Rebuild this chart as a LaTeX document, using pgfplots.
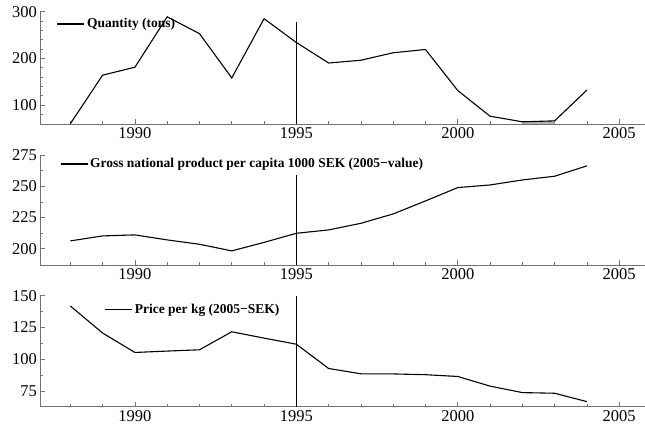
\documentclass[border=0pt]{standalone}
\usepackage{fontspec}
\setmainfont{Liberation Serif}
\usepackage{pgfplots}
\pgfplotsset{compat=1.18}
\definecolor{axgray}{gray}{0.45}
\pgfplotsset{
  panel/.style={
    scale only axis, width=605pt,
    xmin=1987.06, xmax=2005.8,
    axis x line=bottom, axis y line=left,
    axis line style={-, axgray, line width=0.8pt},
    tick align=inside,
    tick style={axgray, line width=0.6pt},
    major tick length=5pt, minor tick length=3pt,
    xtick={1990,1995,2000,2005},
    minor xtick={1987,...,2005},
    tick label style={font=\fontsize{16.5}{18}\selectfont},
    yticklabel style={inner sep=3pt},
    /pgf/number format/assume math mode=true,
    /pgf/number format/1000 sep={},
    legend style={draw=none, fill=none, font=\bfseries\fontsize{13.5}{15}\selectfont, anchor=west, inner sep=0pt, outer sep=0pt},
    legend image code/.code={\draw[black, line width=1pt] (0pt,0pt) -- (25pt,0pt); \path (0pt,0pt) -- (27pt,0pt);},
  },
  dat/.style={black, line width=1.1pt},
  vline/.style={black, line width=0.8pt, forget plot},
}
\begin{document}
\begin{tikzpicture}
\useasboundingbox (0,0) rectangle (645pt,-427pt);
% top panel
\begin{axis}[panel, at={(40pt,-124pt)}, anchor=south west, height=112.3pt,
  ymin=59.3, ymax=300, ytick={100,200,300}, minor ytick={80,100,...,280},
  legend style={at={(0.028,0.89)}}]
\addplot[fill=gray!60, draw=none, forget plot] coordinates {(2002,59.3) (2002,64) (2003,66) (2003,59.3)} -- cycle;
\addplot[dat] coordinates {
(1988,60) (1989,164) (1990,181) (1991,289) (1992,253) (1993,158) (1994,285)
(1995,234) (1996,190) (1997,196) (1998,212) (1999,219) (2000,131) (2001,76)
(2002,64) (2003,66) (2004,132)};
\addlegendentry{Quantity (tons)}
\addplot[vline] coordinates {(1995,59.3) (1995,278)};
\end{axis}
% middle panel
\begin{axis}[panel, at={(40pt,-265pt)}, anchor=south west, height=110pt,
  ymin=186.9, ymax=275, ytick={200,225,250,275}, minor ytick={212.5,237.5,262.5},
  legend style={at={(0.033,0.918)}}]
\addplot[dat] coordinates {
(1988,206.2) (1989,210.2) (1990,211) (1991,207) (1992,203.5) (1993,198.2) (1994,205)
(1995,212.3) (1996,215) (1997,220.3) (1998,227.8) (1999,238.2) (2000,248.9) (2001,251)
(2002,255) (2003,258) (2004,266.3)};
\addlegendentry{Gross national product per capita 1000 SEK (2005−value)}
\addplot[vline] coordinates {(1995,186.9) (1995,258.8)};
\end{axis}
% bottom panel
\begin{axis}[panel, at={(40pt,-406.7pt)}, anchor=south west, height=111pt,
  ymin=62.6, ymax=150, ytick={75,100,125,150}, minor ytick={87.5,112.5,137.5},
  legend style={at={(0.107,0.877)}}]
\addplot[dat] coordinates {
(1988,141.9) (1989,120.6) (1990,105.3) (1991,106.4) (1992,107.4) (1993,121.6) (1994,116.6)
(1995,111.8) (1996,92.7) (1997,88.5) (1998,88.4) (1999,87.8) (2000,86.4) (2001,78.8)
(2002,73.7) (2003,73.2) (2004,66.6)};
\addlegendentry{Price per kg (2005−SEK)}
\addplot[vline] coordinates {(1995,62.6) (1995,150)};
\end{axis}
\end{tikzpicture}
\end{document}
